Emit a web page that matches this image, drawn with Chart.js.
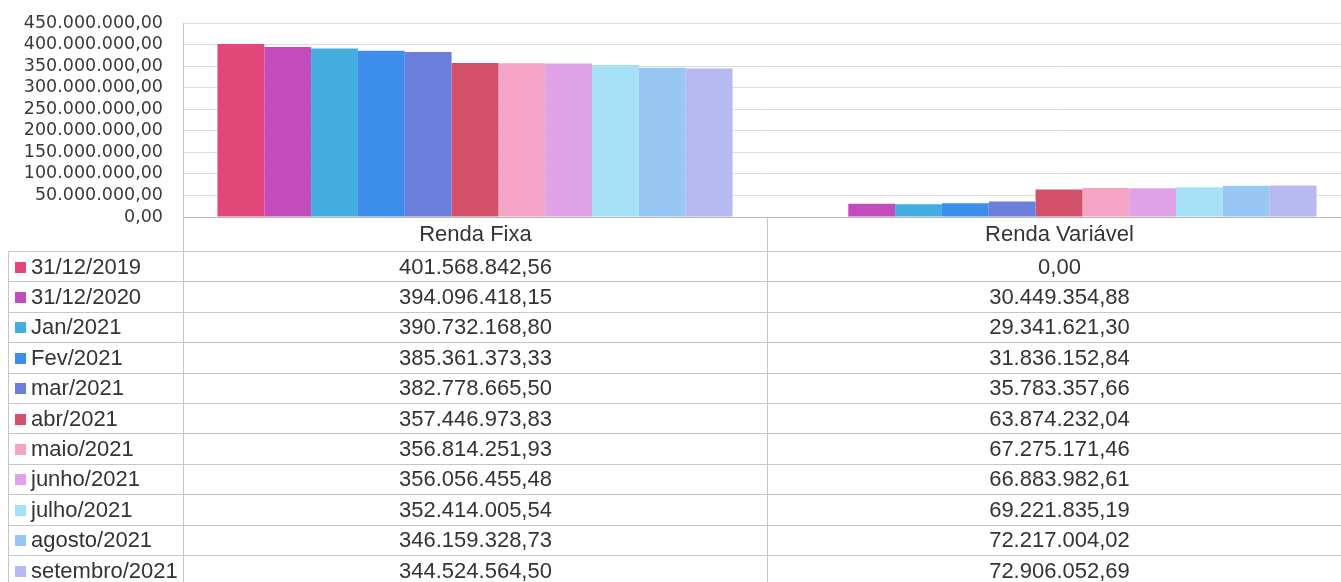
<!DOCTYPE html>
<html lang="pt-BR">
<head>
<meta charset="utf-8">
<title>Renda Fixa e Renda Variável</title>
<script src="https://cdn.jsdelivr.net/npm/chart.js@4/dist/chart.umd.min.js"></script>
<style>
  html, body { margin: 0; padding: 0; background: #fff; overflow: hidden; width: 1341px; height: 582px; }
  #wrap { position: absolute; left: 0; top: 0; width: 1360px; height: 240px; }
  #tbl {
    position: absolute; top: 217px; border-collapse: collapse; table-layout: fixed;
    font-family: "Liberation Sans", Arial, sans-serif; font-size: 22px; color: #343434;
  }
  #tbl td, #tbl th { border: 1px solid #c6c6c6; padding: 0; font-weight: normal; white-space: nowrap; overflow: hidden; }
  #tbl thead th { border-top: none; height: 34px; text-align: center; vertical-align: middle; }
  #tbl thead th.corner { border-left: none; border-bottom: 1px solid #c6c6c6; }
  #tbl tbody td { height: 29.4px; text-align: center; vertical-align: middle; line-height: 24px; }
  #tbl tbody td.serie { text-align: left; padding-left: 6px; }
  #tbl .sw { display: inline-block; width: 11px; height: 11px; margin-right: 5px; vertical-align: 1px; }
</style>
</head>
<body>
<div id="wrap"><canvas id="chart"></canvas></div>
<table id="tbl"><colgroup><col id="c0"><col id="c1"><col id="c2"></colgroup><thead></thead><tbody></tbody></table>
<script>
// Categories on the x axis
const categories = ['Renda Fixa', 'Renda Variável'];

// Reference dates (one bar series each)
const periods = ['31/12/2019', '31/12/2020', 'Jan/2021', 'Fev/2021', 'mar/2021', 'abr/2021',
                 'maio/2021', 'junho/2021', 'julho/2021', 'agosto/2021', 'setembro/2021'];

// Balances per date (R$)
const rendaFixa = [401568842.56, 394096418.15, 390732168.80, 385361373.33, 382778665.50, 357446973.83,
                   356814251.93, 356056455.48, 352414005.54, 346159328.73, 344524564.50];
const rendaVariavel = [0.00, 30449354.88, 29341621.30, 31836152.84, 35783357.66, 63874232.04,
                       67275171.46, 66883982.61, 69221835.19, 72217004.02, 72906052.69];

// Value axis range and step
const yMax = 450000000;
const yStep = 50000000;

// Series colours
const seriesColors = ['#E3477A', '#C24CBC', '#44AEE0', '#3D8EEA', '#6B7EDB', '#D3506B',
                      '#F4A4C4', '#DFA2E6', '#A7E1F5', '#98C7F4', '#B7B9F1'];

// Brazilian number format: 1.234.567,89
function fmtBR(v) {
  const s = Math.abs(v).toFixed(2);
  const parts = s.split('.');
  return (v < 0 ? '-' : '') + parts[0].replace(/\B(?=(\d{3})+(?!\d))/g, '.') + ',' + parts[1];
}

const datasets = periods.map((p, i) => ({
  label: p,
  data: [rendaFixa[i], rendaVariavel[i]],
  backgroundColor: seriesColors[i],
  borderWidth: 0,
  categoryPercentage: 0.882,
  barPercentage: 1.0
}));

const chart = new Chart(document.getElementById('chart'), {
  type: 'bar',
  data: { labels: categories, datasets: datasets },
  options: {
    responsive: true,
    maintainAspectRatio: false,
    animation: false,
    layout: { padding: { top: 23, right: 9, bottom: 23, left: 0 } },
    plugins: { legend: { display: false }, tooltip: { enabled: false }, title: { display: false } },
    scales: {
      x: {
        display: false
      },
      y: {
        min: 0,
        max: yMax,
        ticks: {
          stepSize: yStep,
          autoSkip: false,
          padding: 20,
          color: '#3a3a3a',
          font: { family: '"DejaVu Sans", Verdana, sans-serif', size: 17.5 },
          callback: (v) => fmtBR(v)
        },
        grid: {
          color: (ctx) => (ctx.tick && ctx.tick.value === 0 ? '#b8b8b8' : '#dcdcdc'),
          lineWidth: 1,
          drawTicks: false
        },
        border: { display: true, color: '#c6c6c6', width: 1 },
        afterFit: (s) => { s.width = 183; s.paddingTop = 0; s.paddingBottom = 0; }
      }
    }
  }
});

// Data table below the plot, aligned with the category columns
(function buildTable() {
  const ca = chart.chartArea;
  const xs = chart.scales.x;
  const left = 8;
  const b0 = ca.left;
  const b1 = (xs.getPixelForValue(0) + xs.getPixelForValue(1)) / 2;
  const b2 = ca.right;
  const tbl = document.getElementById('tbl');
  tbl.style.left = left + 'px';
  tbl.style.top = Math.round(ca.bottom) + 'px';
  tbl.style.width = (b2 - left) + 'px';
  document.getElementById('c0').style.width = (b0 - left) + 'px';
  document.getElementById('c1').style.width = (b1 - b0) + 'px';
  document.getElementById('c2').style.width = (b2 - b1) + 'px';

  const thead = tbl.querySelector('thead');
  const hr = document.createElement('tr');
  const corner = document.createElement('th');
  corner.className = 'corner';
  hr.appendChild(corner);
  categories.forEach(c => {
    const th = document.createElement('th');
    th.textContent = c;
    hr.appendChild(th);
  });
  thead.appendChild(hr);

  const tbody = tbl.querySelector('tbody');
  periods.forEach((p, i) => {
    const tr = document.createElement('tr');
    const td0 = document.createElement('td');
    td0.className = 'serie';
    const sw = document.createElement('span');
    sw.className = 'sw';
    sw.style.background = seriesColors[i];
    td0.appendChild(sw);
    td0.appendChild(document.createTextNode(p));
    tr.appendChild(td0);
    [rendaFixa[i], rendaVariavel[i]].forEach(v => {
      const td = document.createElement('td');
      td.textContent = fmtBR(v);
      tr.appendChild(td);
    });
    tbody.appendChild(tr);
  });
})();
</script>
</body>
</html>
